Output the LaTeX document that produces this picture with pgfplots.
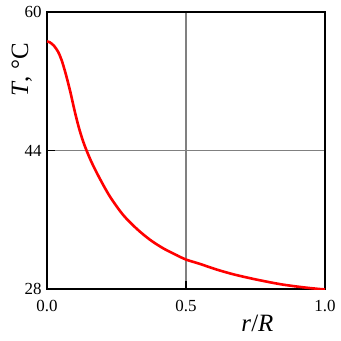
\documentclass[border=0pt]{standalone}
\usepackage{fontspec}
\setmainfont{Liberation Serif}
\usepackage{pgfplots}
\pgfplotsset{compat=1.18}
\begin{document}
\begin{tikzpicture}
\begin{axis}[
  at={(0,0)}, anchor=south west,
  scale only axis, width=278bp, height=277bp,
  xmin=0, xmax=1, ymin=28, ymax=60,
  xtick={0,0.5,1}, ytick={28,44,60},
  xticklabel style={/pgf/number format/fixed, /pgf/number format/fixed zerofill, /pgf/number format/precision=1, yshift=-8bp},
  yticklabel style={xshift=-2bp},
  /pgf/number format/assume math mode=true,
  tick label style={font=\fontsize{17}{17}\selectfont},
  grid=major, major grid style={draw=gray, line width=1.2bp},
  axis line style={line width=1.3bp},
  tick style={black, line width=1.3bp},
  major tick length=8bp,
  tick align=inside,
  xtick pos=left, ytick pos=left,
  xlabel={\textit{r}/\textit{R}},
  ylabel={\textit{T}, °C},
  xlabel style={font=\fontsize{25}{25}\selectfont, at={(axis description cs:0.757,-0.152)}, anchor=base},
  ylabel style={font=\fontsize{25}{25}\selectfont, at={(axis description cs:-0.068,0.792)}, anchor=base},
]
\addplot[red, line width=2.6bp, smooth, tension=0.5] coordinates {
(0,56.6) (0.01,56.5) (0.025,56.1) (0.04,55.4) (0.053,54.4) (0.067,52.9)
(0.083,50.9) (0.1,48.5) (0.115,46.6) (0.13,45.05) (0.143,43.95) (0.161,42.6)
(0.19,40.75) (0.227,38.65) (0.274,36.55) (0.323,34.95) (0.37,33.7)
(0.418,32.7) (0.467,31.9) (0.5,31.4) (0.55,30.9) (0.61,30.25) (0.67,29.7)
(0.73,29.25) (0.79,28.85) (0.85,28.5) (0.92,28.2) (0.98,28.0) (1.0,27.95)
};
\end{axis}
\pgfresetboundingbox
\path[use as bounding box] (-47bp,-52bp) rectangle (294bp,289bp);
\end{tikzpicture}
\end{document}
